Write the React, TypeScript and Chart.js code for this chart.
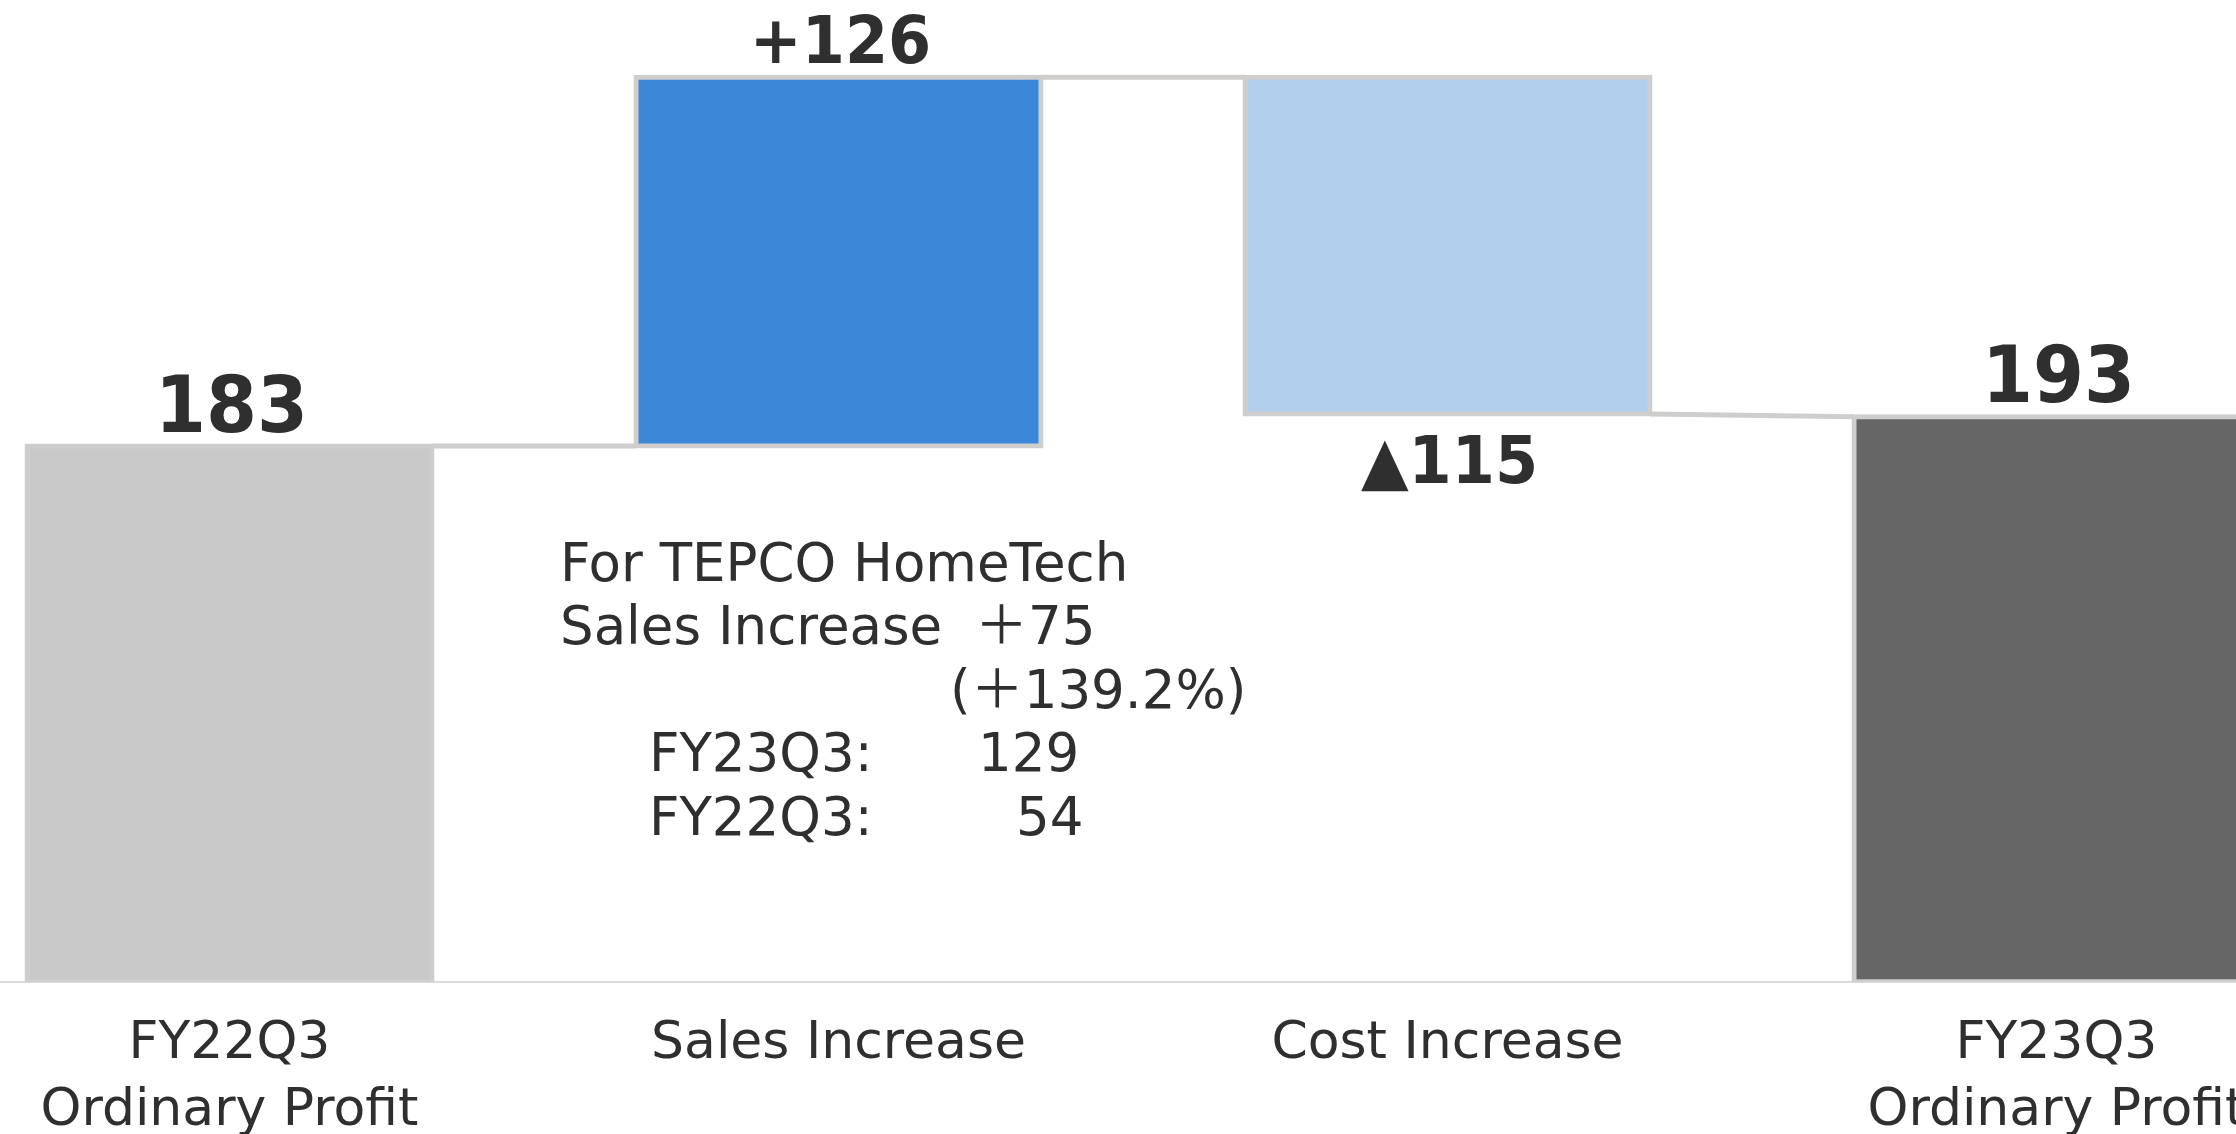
import React, { useEffect, useRef } from 'react';
import { Chart, registerables } from 'chart.js';

Chart.register(...registerables);

// ---- data ----
const categories: (string | string[])[] = [
  ['FY22Q3', 'Ordinary Profit'],
  'Sales Increase',
  'Cost Increase',
  ['FY23Q3', 'Ordinary Profit'],
];
const startValue = 183;
const deltas = [126, -115];
const endValue = 193;
const valueLabels = ['183', '+126', '▲115', '193'];
const barColors = ['#c9c9c9', '#3c87d8', '#b2d0ee', '#666666'];
const noteLeftTexts = ['For TEPCO HomeTech', 'Sales Increase', '', 'FY23Q3:', 'FY22Q3:'];
const noteRightTexts = ['', '＋75', '(＋139.2%)', '129', '54'];

// ---- derived waterfall ranges ----
const cumulative: number[] = [startValue];
deltas.forEach((d) => cumulative.push(cumulative[cumulative.length - 1] + d));
const ranges: [number, number][] = [[0, startValue]];
deltas.forEach((d, i) => {
  const a = cumulative[i];
  const b = cumulative[i + 1];
  ranges.push([Math.min(a, b), Math.max(a, b)]);
});
ranges.push([0, endValue]);
const connectorFrom = cumulative.slice();
const connectorTo = cumulative.map((c, i) => (i + 1 < cumulative.length ? c : endValue));
const isTotal = [true, ...deltas.map(() => false), true];
const isNegative = [false, ...deltas.map((d) => d < 0), false];

// ---- layout / style constants ----
const REG_FONT = '"DejaVu Sans", "Noto Sans CJK JP", sans-serif';
const BOLD_FONT = '"DejaVu Sans", "Noto Sans CJK JP", sans-serif';
const TEXT_COLOR = '#2f2f2f';
const LINE_COLOR = '#d0cdcd';
const noteLeftX = [-278.5, -278.5, 0, -189.5, -189.5];
const noteRightX = [0, 136.5, 111.5, 139.5, 177.5];
const noteBaseY = [-400, -336.5, -273, -209.5, -146];

const waterfallPlugin = {
  id: 'waterfallDecor',
  beforeDatasetsDraw(chart: any) {
    const ctx = chart.ctx as CanvasRenderingContext2D;
    const meta = chart.getDatasetMeta(0);
    const y = chart.scales.y;
    ctx.save();
    ctx.strokeStyle = LINE_COLOR;
    ctx.lineWidth = 5;
    for (let i = 0; i < connectorFrom.length; i++) {
      const cur = meta.data[i];
      const next = meta.data[i + 1];
      if (!cur || !next) continue;
      const x1 = cur.x + cur.width / 2;
      const x2 = next.x - next.width / 2;
      ctx.beginPath();
      ctx.moveTo(x1, y.getPixelForValue(connectorFrom[i]));
      ctx.lineTo(x2, y.getPixelForValue(connectorTo[i]));
      ctx.stroke();
    }
    ctx.restore();
  },
  afterDatasetsDraw(chart: any) {
    const ctx = chart.ctx as CanvasRenderingContext2D;
    const meta = chart.getDatasetMeta(0);
    const x = chart.scales.x;
    const y = chart.scales.y;
    ctx.save();
    ctx.fillStyle = TEXT_COLOR;
    ctx.textAlign = 'center';
    ctx.textBaseline = 'alphabetic';
    meta.data.forEach((el: any, i: number) => {
      const top = Math.min(el.y, el.base);
      const bottom = Math.max(el.y, el.base);
      const size = isTotal[i] ? 78 : 66;
      ctx.font = `bold ${size}px ${BOLD_FONT}`;
      const by = isNegative[i] ? bottom + 69 : top - 14.5;
      ctx.save();
      ctx.translate(el.x + 2, by);
      ctx.scale(0.94, 1);
      ctx.fillText(valueLabels[i], 0, 0);
      ctx.restore();
    });

    // annotation block
    const ax = x.getPixelForValue(1);
    const ay = y.getPixelForValue(0);
    ctx.font = `53px ${REG_FONT}`;
    ctx.textAlign = 'left';
    for (let i = 0; i < noteLeftTexts.length; i++) {
      if (noteLeftTexts[i]) ctx.fillText(noteLeftTexts[i], ax + noteLeftX[i], ay + noteBaseY[i] - 1);
      if (noteRightTexts[i]) ctx.fillText(noteRightTexts[i], ax + noteRightX[i], ay + noteBaseY[i] - 1);
    }
    ctx.restore();
  },
};

export default function App() {
  const ref = useRef<HTMLCanvasElement | null>(null);
  useEffect(() => {
    if (!ref.current) return;
    const chart = new Chart(ref.current, {
      type: 'bar',
      data: {
        labels: categories,
        datasets: [
          {
            data: ranges as any,
            backgroundColor: barColors,
            borderColor: LINE_COLOR,
            borderWidth: 5,
            borderSkipped: false,
            inflateAmount: 2.5,
            categoryPercentage: 0.665,
            barPercentage: 1,
          } as any,
        ],
      },
      options: {
        responsive: false,
        devicePixelRatio: 1,
        animation: false,
        layout: { padding: { top: 45, left: 0, right: 0, bottom: 0 } },
        plugins: {
          legend: { display: false },
          tooltip: { enabled: false },
          title: { display: false },
        },
        scales: {
          x: {
            type: 'category',
            offset: true,
            grid: { display: false, drawTicks: false },
            border: { display: true, color: '#dadada', width: 2 },
            ticks: {
              color: TEXT_COLOR,
              font: { family: REG_FONT, size: 52, lineHeight: 1.29 },
              padding: 29,
              maxRotation: 0,
              autoSkip: false,
            },
          },
          y: { display: false, min: 0, max: 320 },
        },
      },
      plugins: [waterfallPlugin],
    });
    return () => chart.destroy();
  }, []);

  return (
    <div
      style={{
        position: 'fixed',
        left: 0,
        top: 0,
        width: 2236,
        height: 1134,
        overflow: 'hidden',
        background: '#ffffff',
      }}
    >
      <canvas
        ref={ref}
        width={2436}
        height={1174}
        style={{ position: 'absolute', left: -75, top: 0, width: 2436, height: 1174 }}
      />
    </div>
  );
}
